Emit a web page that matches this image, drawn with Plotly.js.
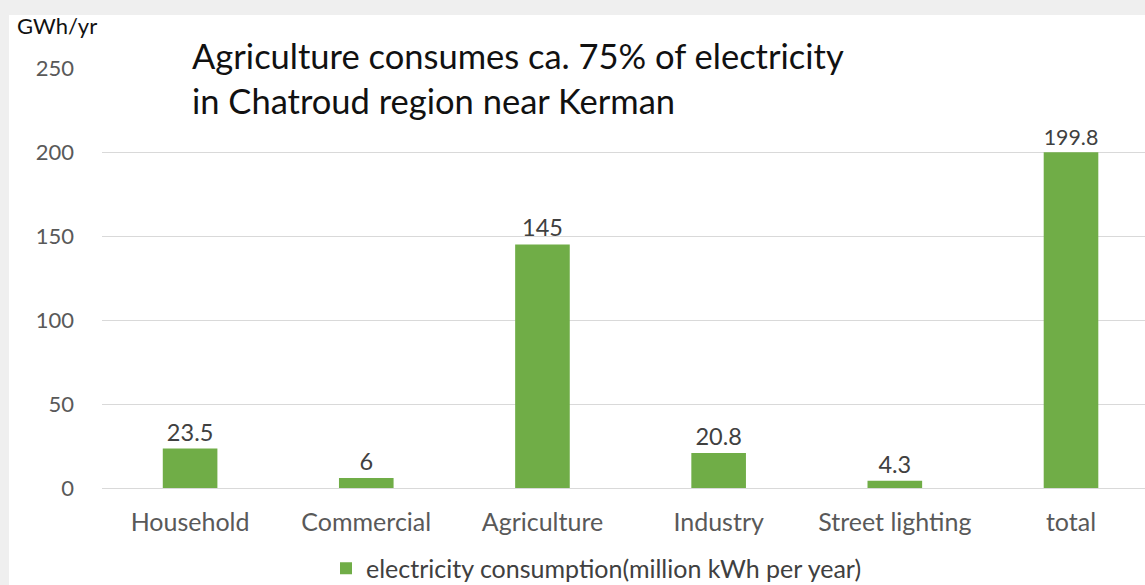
<!DOCTYPE html>
<html>
<head>
<meta charset="utf-8">
<script src="https://cdn.plot.ly/plotly-3.0.1.min.js"></script>
<style>html,body{margin:0;padding:0;background:#fff;}#chart{width:1145px;height:585px;}</style>
</head>
<body>
<div id="chart"></div>
<script>
const categories = ["Household", "Commercial", "Agriculture", "Industry", "Street lighting", "total"];
const consumption = [23.5, 6, 145, 20.8, 4.3, 199.8];
const valueLabels = ["23.5", "6", "145", "20.8", "4.3", "199.8"];
const yTicks = [0, 50, 100, 150, 200, 250];
const seriesName = "electricity consumption(million kWh per year)";
const titleLines = ["Agriculture consumes ca. 75% of electricity", "in Chatroud region near Kerman"];
const unitLabel = "GWh/yr";

const FONT = "Lato, 'Liberation Sans', sans-serif";
const L = 102, T = 68, PW = 1043, PH = 420;
const px = x => (x - L) / PW;
const py = y => 1 + (T - y) / PH;

const trace = {
  type: "bar",
  x: categories,
  y: consumption,
  name: seriesName,
  width: 0.31,
  marker: {color: "#70AD47"},
  text: valueLabels,
  textposition: "outside",
  textfont: {family: FONT, size: 23.5, color: "#404040"},
  cliponaxis: false,
  hoverinfo: "x+y"
};

const layout = {
  width: 1145,
  height: 585,
  margin: {l: L, r: 0, t: T, b: 97},
  paper_bgcolor: "#ffffff",
  plot_bgcolor: "#ffffff",
  font: {family: FONT, color: "#595959"},
  showlegend: true,
  legend: {
    orientation: "h",
    x: px(326), xanchor: "left",
    yref: "container", y: 0.028, yanchor: "middle",
    font: {family: FONT, size: 25, color: "#404040"},
    itemwidth: 30,
    bgcolor: "rgba(0,0,0,0)"
  },
  xaxis: {
    type: "category",
    range: [-0.5, 5.42],
    showgrid: false,
    showline: false,
    zeroline: false,
    ticks: "",
    ticklabelstandoff: 17,
    tickfont: {family: FONT, size: 25, color: "#595959"},
    fixedrange: true
  },
  yaxis: {
    range: [0, 250],
    tickvals: yTicks,
    showgrid: true,
    gridcolor: "#d9d9d9",
    gridwidth: 1,
    zeroline: true,
    zerolinecolor: "#d9d9d9",
    zerolinewidth: 1,
    showline: false,
    ticks: "",
    ticklabelstandoff: 27,
    tickfont: {family: FONT, size: 22, color: "#595959"},
    fixedrange: true
  },
  shapes: [
    {type: "rect", xref: "paper", yref: "paper", x0: px(0), x1: px(1145), y0: py(15), y1: py(0), fillcolor: "#efefef", line: {width: 0}, layer: "below"},
    {type: "rect", xref: "paper", yref: "paper", x0: px(0), x1: px(9), y0: py(585), y1: py(0), fillcolor: "#efefef", line: {width: 0}, layer: "below"}
  ],
  annotations: [
    {text: titleLines[0], xref: "paper", yref: "paper", x: px(190), y: py(55), xanchor: "left", yanchor: "middle", showarrow: false, font: {family: FONT, size: 34.5, color: "#111111"}},
    {text: titleLines[1], xref: "paper", yref: "paper", x: px(190), y: py(101), xanchor: "left", yanchor: "middle", showarrow: false, font: {family: FONT, size: 34.5, color: "#111111"}},
    {text: unitLabel, xref: "paper", yref: "paper", x: px(15), y: py(26), xanchor: "left", yanchor: "middle", showarrow: false, font: {family: FONT, size: 22, color: "#111111"}}
  ]
};

Plotly.newPlot("chart", [trace], layout, {displayModeBar: false, staticPlot: true});
</script>
</body>
</html>
